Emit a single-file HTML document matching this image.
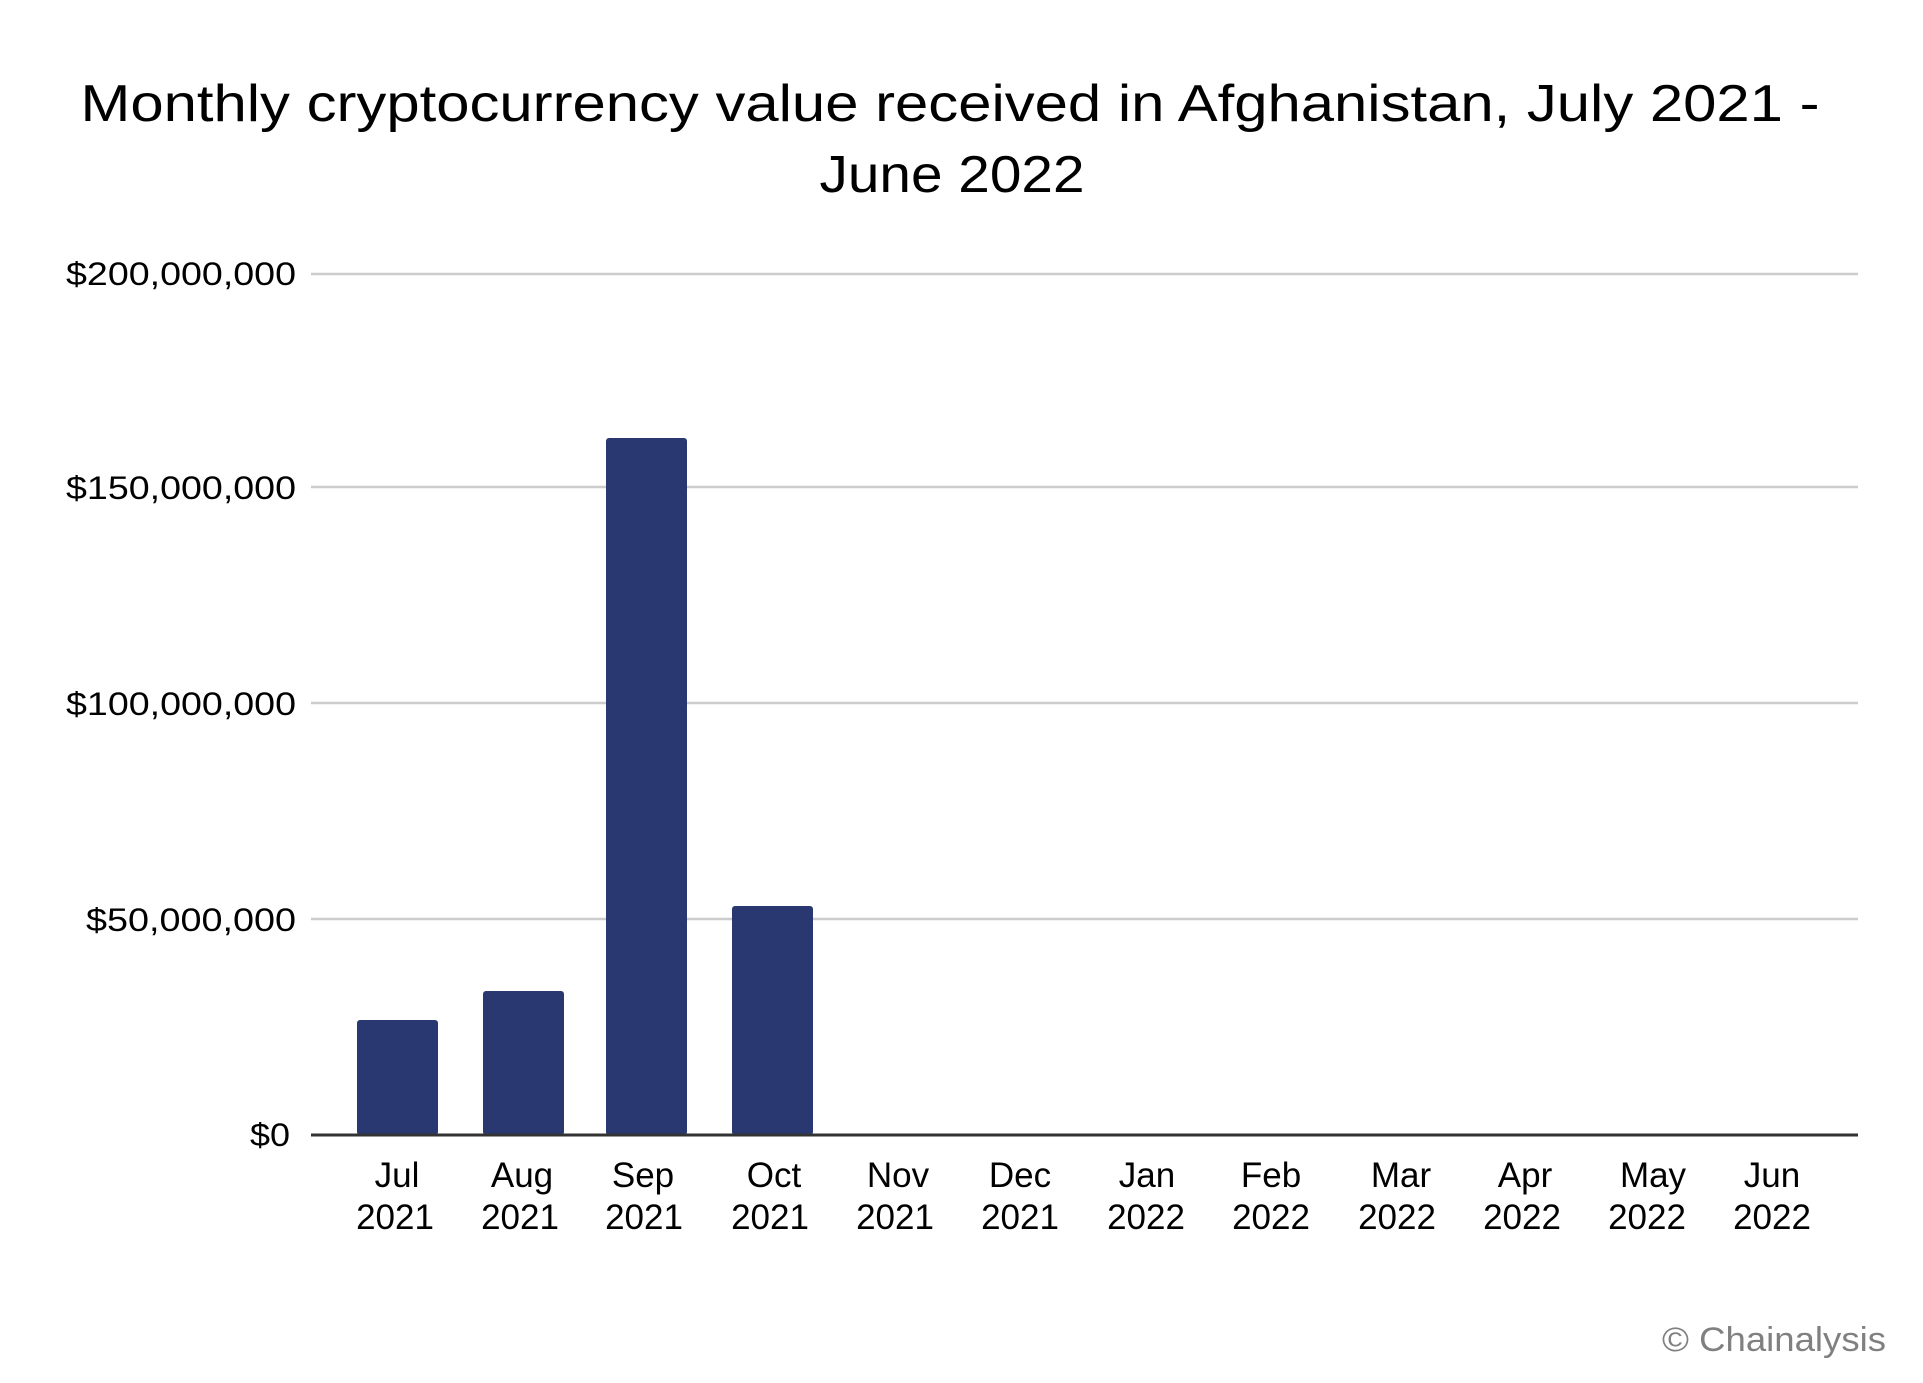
<!DOCTYPE html>
<html><head><meta charset="utf-8"><style>
html,body{margin:0;padding:0;background:#fff;}
svg{display:block;font-family:"Liberation Sans","DejaVu Sans",sans-serif;}
</style></head><body>
<svg width="1923" height="1383" viewBox="0 0 1923 1383" xmlns="http://www.w3.org/2000/svg">
<rect width="1923" height="1383" fill="#fff"/>
<text x="950" y="121" font-size="52" text-anchor="middle" textLength="1739" lengthAdjust="spacingAndGlyphs" fill="#000">Monthly cryptocurrency value received in Afghanistan, July 2021 -</text>
<text x="952" y="192" font-size="52" text-anchor="middle" textLength="265" lengthAdjust="spacingAndGlyphs" fill="#000">June 2022</text>
<g stroke="#cccccc" stroke-width="2.5">
<line x1="311" y1="274" x2="1858" y2="274"/>
<line x1="311" y1="487" x2="1858" y2="487"/>
<line x1="311" y1="703" x2="1858" y2="703"/>
<line x1="311" y1="919" x2="1858" y2="919"/>
</g>
<g font-size="32" text-anchor="end" fill="#000">
<text x="296" y="285" textLength="230" lengthAdjust="spacingAndGlyphs">$200,000,000</text>
<text x="296" y="499" textLength="230" lengthAdjust="spacingAndGlyphs">$150,000,000</text>
<text x="296" y="715" textLength="230" lengthAdjust="spacingAndGlyphs">$100,000,000</text>
<text x="296" y="931" textLength="210" lengthAdjust="spacingAndGlyphs">$50,000,000</text>
<text x="290" y="1146" textLength="40" lengthAdjust="spacingAndGlyphs">$0</text>
</g>
<g fill="#293870">
<rect x="357" y="1020" width="81" height="115" rx="3"/>
<rect x="483" y="991" width="81" height="144" rx="3"/>
<rect x="606" y="438" width="81" height="697" rx="3"/>
<rect x="732" y="906" width="81" height="229" rx="3"/>
</g>
<line x1="311" y1="1135" x2="1858" y2="1135" stroke="#333" stroke-width="3"/>
<g font-size="35" text-anchor="middle" fill="#000">
<text x="397" y="1187">Jul</text><text x="395" y="1229">2021</text>
<text x="522" y="1187">Aug</text><text x="520" y="1229">2021</text>
<text x="643" y="1187">Sep</text><text x="644" y="1229">2021</text>
<text x="774" y="1187">Oct</text><text x="770" y="1229">2021</text>
<text x="898" y="1187">Nov</text><text x="895" y="1229">2021</text>
<text x="1020" y="1187">Dec</text><text x="1020" y="1229">2021</text>
<text x="1147" y="1187">Jan</text><text x="1146" y="1229">2022</text>
<text x="1271" y="1187">Feb</text><text x="1271" y="1229">2022</text>
<text x="1401" y="1187">Mar</text><text x="1397" y="1229">2022</text>
<text x="1525" y="1187">Apr</text><text x="1522" y="1229">2022</text>
<text x="1653" y="1187">May</text><text x="1647" y="1229">2022</text>
<text x="1772" y="1187">Jun</text><text x="1772" y="1229">2022</text>
</g>
<text x="1662" y="1351" font-size="34" fill="#808080" textLength="224" lengthAdjust="spacingAndGlyphs">© Chainalysis</text>
</svg>
</body></html>
